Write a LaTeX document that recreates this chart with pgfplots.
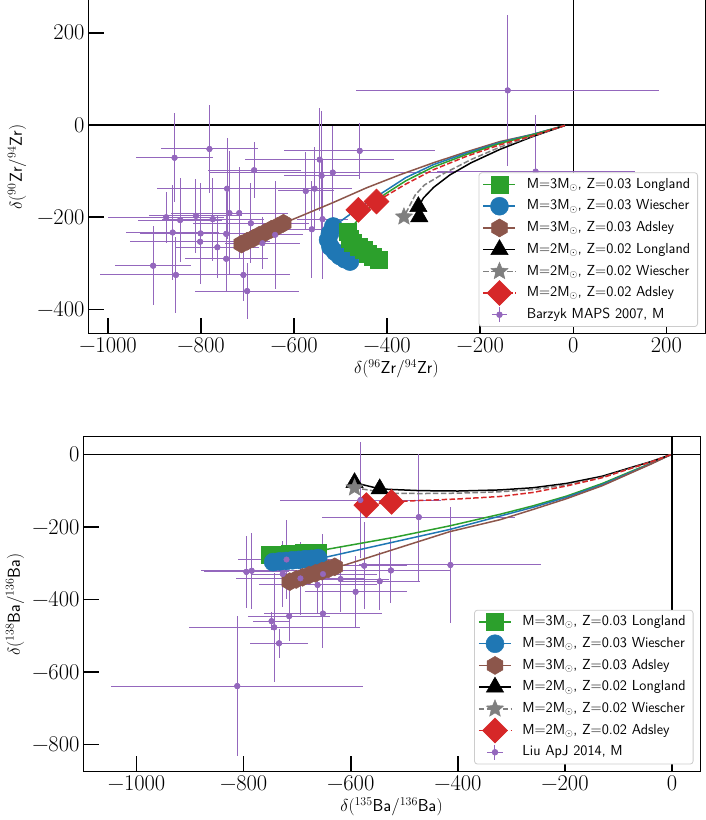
\documentclass[border=0pt]{standalone}
\usepackage{pgfplots}
\pgfplotsset{compat=1.18}
\usepackage{pgfplotstable}

\newcommand\TL[1]{{\fontsize{22.5}{26}\selectfont #1}}

\definecolor{tabgreen}{HTML}{2CA02C}
\definecolor{tabblue}{HTML}{1F77B4}
\definecolor{tabbrown}{HTML}{8C564B}
\definecolor{tabgray}{HTML}{7F7F7F}
\definecolor{tabred}{HTML}{D62728}
\definecolor{tabpurple}{HTML}{9467BD}

\pgfdeclareplotmark{hexagon*}{%
  \pgfpathmoveto{\pgfpointpolar{90}{\pgfplotmarksize}}%
  \pgfpathlineto{\pgfpointpolar{150}{\pgfplotmarksize}}%
  \pgfpathlineto{\pgfpointpolar{210}{\pgfplotmarksize}}%
  \pgfpathlineto{\pgfpointpolar{270}{\pgfplotmarksize}}%
  \pgfpathlineto{\pgfpointpolar{330}{\pgfplotmarksize}}%
  \pgfpathlineto{\pgfpointpolar{30}{\pgfplotmarksize}}%
  \pgfpathclose\pgfusepathqfillstroke}
\pgfdeclareplotmark{fstar}{%
  \pgfpathmoveto{\pgfpointpolar{90}{\pgfplotmarksize}}%
  \pgfpathlineto{\pgfpointpolar{126}{0.45*\pgfplotmarksize}}%
  \pgfpathlineto{\pgfpointpolar{162}{\pgfplotmarksize}}%
  \pgfpathlineto{\pgfpointpolar{198}{0.45*\pgfplotmarksize}}%
  \pgfpathlineto{\pgfpointpolar{234}{\pgfplotmarksize}}%
  \pgfpathlineto{\pgfpointpolar{270}{0.45*\pgfplotmarksize}}%
  \pgfpathlineto{\pgfpointpolar{306}{\pgfplotmarksize}}%
  \pgfpathlineto{\pgfpointpolar{342}{0.45*\pgfplotmarksize}}%
  \pgfpathlineto{\pgfpointpolar{18}{\pgfplotmarksize}}%
  \pgfpathlineto{\pgfpointpolar{54}{0.45*\pgfplotmarksize}}%
  \pgfpathclose\pgfusepathqfillstroke}
\pgfdeclareplotmark{bigdiamond*}{%
  \pgfpathmoveto{\pgfqpoint{0pt}{\pgfplotmarksize}}%
  \pgfpathlineto{\pgfqpoint{\pgfplotmarksize}{0pt}}%
  \pgfpathlineto{\pgfqpoint{0pt}{-\pgfplotmarksize}}%
  \pgfpathlineto{\pgfqpoint{-\pgfplotmarksize}{0pt}}%
  \pgfpathclose\pgfusepathqfillstroke}

\pgfplotstableread{
x y ex ey
-141 75 325 163
-81 -101 213 123
-459 -56 162 60
-782 -52 104 96
-857 -71 82 96
-686 -98 100 61
-545 -75 160 112
-541 -110 80 140
-517 -103 265 100
-575 -143 60 85
-556 -138 80 90
-744 -138 150 110
-875 -200 125 55
-845 -206 90 92
-811 -197 100 80
-775 -204 110 90
-739 -191 125 135
-718 -191 100 100
-861 -233 100 103
-801 -235 130 110
-802 -253 150 60
-765 -265 90 67
-693 -213 125 87
-746 -290 89 72
-903 -305 81 85
-854 -325 163 83
-709 -325 100 56
-701 -360 111 60
-668 -256 80 56
-641 -238 60 117
-562 -226 60 105
-539 -204 55 130
-746 -236 60 90
}\zrdata

\pgfplotstableread{
x y ex ey
-812 -639 235 193
-720 -290 90 110
-795 -324 80 100
-785 -321 95 105
-748 -460 35 25
-743 -477 160 150
-734 -521 55 40
-715 -446 77 70
-727 -330 60 90
-694 -342 120 100
-662 -360 110 80
-652 -330 100 110
-652 -439 110 95
-619 -344 90 90
-591 -379 95 100
-575 -307 80 120
-546 -350 75 80
-525 -320 110 90
-582 -126 150 160
-473 -173 180 175
-414 -305 170 160
}\badata

\pgfplotsset{
  panel/.style={
    scale only axis, width=617pt,
    axis line style={line width=1pt},
    tick align=inside, xtick pos=left, ytick pos=left,
    major tick length=16pt,
    tick style={black, line width=1.6pt},
    minor tick num=0,
    xticklabel style={font=\fontsize{22.5}{26}\selectfont},
    yticklabel style={font=\fontsize{22.5}{26}\selectfont},
    xlabel style={font=\fontsize{17.7}{21}\selectfont},
    ylabel style={font=\fontsize{17.7}{21}\selectfont},
    scaled ticks=false,
    legend cell align=left,
    legend image code/.code={%
      \path[draw=none,fill=none] (0pt,-3pt) rectangle (32pt,3pt);
      \begin{scope}[overlay,sharp corners]
      \draw[mark repeat=2,mark phase=2,##1] plot coordinates {(0pt,0pt) (16pt,0pt) (32pt,0pt)};
      \end{scope}},
    legend style={
      font=\sffamily\fontsize{14.5}{17}\selectfont,
      draw=black!20, line width=0.8pt, rounded corners=3pt, fill=white,
      inner xsep=4.5pt, inner ysep=1pt,
      column sep=8.3pt, row sep=0pt,
      nodes={inner xsep=3pt, inner ysep=3.6pt, text height=11pt, text depth=3.5pt},
      at={(1,0)}, anchor=south east, xshift=-7pt, yshift=7pt},
  },
  purplelegend/.style={legend image code/.code={%
      \path[draw=none,fill=none] (0pt,-3pt) rectangle (32pt,3pt);
      \begin{scope}[overlay,sharp corners]
      \draw[tabpurple, line width=1pt] (8.5pt,0pt) -- (24pt,0pt);
      \draw[tabpurple, line width=1pt] (16pt,-7.5pt) -- (16pt,7.5pt);
      \fill[tabpurple] (16pt,0pt) circle (2.8pt);
      \end{scope}}},
  mgreen/.style={tabgreen, line width=1.5pt, mark=square*, mark size=8.5pt, mark options={solid,line width=0.5pt}},
  mblue/.style={tabblue, line width=1.5pt, mark=*, mark size=9pt, mark options={solid,line width=0.5pt}},
  mbrown/.style={tabbrown, line width=1.5pt, mark=hexagon*, mark size=9pt, mark options={solid,line width=0.5pt}},
  mblack/.style={black, line width=1.5pt, mark=triangle*, mark size=10pt, mark options={solid,line width=0.5pt}},
  mgray/.style={tabgray, line width=1.5pt, dash pattern=on 5.5pt off 2.4pt, mark=fstar, mark size=9pt, mark options={solid,line width=0.5pt}},
  mred/.style={tabred, line width=1.5pt, dash pattern=on 5.5pt off 2.4pt, mark=bigdiamond*, mark size=12.5pt, mark options={solid,line width=0.5pt}},
  ebars/.style={only marks, mark=*, mark size=2.8pt, tabpurple,
    error bars/x dir=both, error bars/x explicit,
    error bars/y dir=both, error bars/y explicit,
    error bars/error mark=none,
    error bars/error bar style={tabpurple, line width=1pt, solid}},
}

\begin{document}
\begin{tikzpicture}
\useasboundingbox (0pt,0pt) rectangle (706pt,820pt);

% ---------------- top panel ----------------
\begin{axis}[panel, at={(88pt,486pt)}, anchor=south west, height=334pt,
  xmin=-1043, xmax=283, ymin=-453, ymax=271,
  xtick={-1000,-800,-600,-400,-200,0,200},
  xticklabels={\TL{−1000},\TL{−800},\TL{−600},\TL{−400},\TL{−200},\TL{0},\TL{200}},
  ytick={-400,-200,0,200},
  yticklabels={\TL{−400},\TL{−200},\TL{0},\TL{200}},
  xlabel={$\delta(^{96}\mathsf{Zr}/^{94}\mathsf{Zr})$},
  ylabel={$\delta(^{90}\mathsf{Zr}/^{94}\mathsf{Zr})$},
  ylabel style={at={(axis description cs:-0.115,0.5)}, anchor=center},
]
\addlegendimage{mgreen}\addlegendentry{M=3M$_\odot$, Z=0.03 Longland}
\addlegendimage{mblue}\addlegendentry{M=3M$_\odot$, Z=0.03 Wiescher}
\addlegendimage{mbrown}\addlegendentry{M=3M$_\odot$, Z=0.03 Adsley}
\addlegendimage{mblack}\addlegendentry{M=2M$_\odot$, Z=0.02 Longland}
\addlegendimage{mgray}\addlegendentry{M=2M$_\odot$, Z=0.02 Wiescher}
\addlegendimage{mred}\addlegendentry{M=2M$_\odot$, Z=0.02 Adsley}
\addlegendimage{purplelegend}\addlegendentry{Barzyk MAPS 2007, M}

\addplot[black, line width=1.6pt, forget plot] coordinates {(-2000,0) (2000,0)};
\addplot[black, line width=1.6pt, forget plot] coordinates {(0,-2000) (0,2000)};

\addplot[forget plot, ebars] table[x=x, y=y, x error=ex, y error=ey] {\zrdata};

% 3 Msun Adsley
\addplot[mbrown, no marks, forget plot] coordinates {(-18,-1) (-86,-20) (-158,-36) (-229,-58) (-301,-82) (-373,-108) (-444,-136) (-516,-168) (-587,-198) (-623,-213) (-636,-220) (-649,-226) (-662,-233) (-675,-239) (-688,-246) (-701,-252) (-713,-258)};
\addplot[mbrown, only marks, forget plot] coordinates {(-623,-213) (-636,-220) (-649,-226) (-662,-233) (-675,-239) (-688,-246) (-701,-252) (-713,-258)};
% 3 Msun Wiescher
\addplot[mblue, no marks, forget plot] coordinates {(-18,-1) (-90,-21) (-158,-38) (-230,-61) (-301,-86) (-360,-114) (-412,-148) (-465,-183) (-516,-220) (-523,-235) (-527,-249) (-522,-264) (-512,-275) (-502,-284) (-491,-291) (-480,-296)};
\addplot[mblue, only marks, forget plot] coordinates {(-516,-220) (-523,-235) (-527,-249) (-522,-264) (-512,-275) (-502,-284) (-491,-291) (-480,-296)};
% 3 Msun Longland
\addplot[mgreen, no marks, forget plot] coordinates {(-18,-1) (-90,-22) (-158,-40) (-230,-64) (-301,-91) (-360,-121) (-405,-150) (-450,-190) (-484,-231) (-480,-246) (-473,-256) (-462,-264) (-451,-271) (-441,-278) (-430,-285) (-419,-293)};
\addplot[mgreen, only marks, forget plot] coordinates {(-484,-231) (-480,-246) (-473,-256) (-462,-264) (-451,-271) (-441,-278) (-430,-285) (-419,-293)};
% 2 Msun Longland
\addplot[mblack, no marks, forget plot] coordinates {(-18,-1) (-90,-26) (-158,-53) (-220,-82) (-265,-108) (-300,-135) (-322,-158) (-333,-177) (-331,-199)};
\addplot[mblack, only marks, forget plot] coordinates {(-333,-177) (-331,-199)};
% 2 Msun Wiescher
\addplot[mgray, no marks, forget plot] coordinates {(-18,-1) (-90,-25) (-158,-48) (-220,-75) (-280,-106) (-320,-130) (-340,-152) (-364,-199)};
\addplot[mgray, only marks, forget plot] coordinates {(-364,-199)};
% 2 Msun Adsley
\addplot[mred, no marks, forget plot] coordinates {(-18,-1) (-90,-24) (-158,-43) (-230,-68) (-301,-97) (-360,-128) (-400,-152) (-423,-166) (-462,-184)};
\addplot[mred, only marks, forget plot] coordinates {(-423,-166) (-462,-184)};

\addplot[only marks, mark=*, mark size=2.8pt, tabpurple, forget plot] table[x=x, y=y] {\zrdata};
\end{axis}

% ---------------- bottom panel ----------------
\begin{axis}[panel, at={(83pt,48pt)}, anchor=south west, height=335pt,
  xmin=-1100, xmax=52, ymin=-876, ymax=48,
  xtick={-1000,-800,-600,-400,-200,0},
  xticklabels={\TL{−1000},\TL{−800},\TL{−600},\TL{−400},\TL{−200},\TL{0}},
  ytick={-800,-600,-400,-200,0},
  yticklabels={\TL{−800},\TL{−600},\TL{−400},\TL{−200},\TL{0}},
  xlabel={$\delta(^{135}\mathsf{Ba}/^{136}\mathsf{Ba})$},
  ylabel={$\delta(^{138}\mathsf{Ba}/^{136}\mathsf{Ba})$},
  ylabel style={at={(axis description cs:-0.110,0.5)}, anchor=center},
  legend style={xshift=0.5pt, yshift=0.5pt},
]
\addlegendimage{mgreen}\addlegendentry{M=3M$_\odot$, Z=0.03 Longland}
\addlegendimage{mblue}\addlegendentry{M=3M$_\odot$, Z=0.03 Wiescher}
\addlegendimage{mbrown}\addlegendentry{M=3M$_\odot$, Z=0.03 Adsley}
\addlegendimage{mblack}\addlegendentry{M=2M$_\odot$, Z=0.02 Longland}
\addlegendimage{mgray}\addlegendentry{M=2M$_\odot$, Z=0.02 Wiescher}
\addlegendimage{mred}\addlegendentry{M=2M$_\odot$, Z=0.02 Adsley}
\addlegendimage{purplelegend}\addlegendentry{Liu ApJ 2014, M}

\addplot[black, line width=1.6pt, forget plot] coordinates {(-2000,0) (2000,0)};
\addplot[black, line width=1.6pt, forget plot] coordinates {(0,-2000) (0,2000)};

\addplot[forget plot, ebars] table[x=x, y=y, x error=ex, y error=ey] {\badata};

% 3 Msun Longland
\addplot[mgreen, no marks, forget plot] coordinates {(-3,-1) (-40,-25) (-72,-44) (-130,-80) (-197,-115) (-260,-142) (-321,-165) (-415,-197) (-520,-229) (-645,-262) (-662,-270) (-675,-271) (-688,-272) (-701,-273) (-714,-275) (-727,-276) (-740,-277) (-751,-278)};
\addplot[mgreen, only marks, forget plot] coordinates {(-662,-270) (-675,-271) (-688,-272) (-701,-273) (-714,-275) (-727,-276) (-740,-277) (-751,-278)};
% 3 Msun Wiescher
\addplot[mblue, no marks, forget plot] coordinates {(-3,-1) (-40,-26) (-72,-46) (-130,-83) (-197,-118) (-260,-146) (-321,-170) (-415,-207) (-530,-245) (-642,-282) (-661,-286) (-673,-288) (-685,-289) (-697,-291) (-709,-292) (-721,-294) (-733,-295) (-745,-297)};
\addplot[mblue, only marks, forget plot] coordinates {(-661,-286) (-673,-288) (-685,-289) (-697,-291) (-709,-292) (-721,-294) (-733,-295) (-745,-297)};
% 3 Msun Adsley
\addplot[mbrown, no marks, forget plot] coordinates {(-3,-1) (-40,-27) (-72,-48) (-130,-86) (-197,-122) (-260,-152) (-321,-180) (-415,-213) (-511,-258) (-611,-305) (-630,-310) (-642,-316) (-654,-322) (-666,-328) (-678,-333) (-690,-339) (-702,-345) (-714,-351)};
\addplot[mbrown, only marks, forget plot] coordinates {(-630,-310) (-642,-316) (-654,-322) (-666,-328) (-678,-333) (-690,-339) (-702,-345) (-714,-351)};
% 2 Msun Longland
\addplot[mblack, no marks, forget plot] coordinates {(-3,-1) (-40,-20) (-72,-34) (-130,-60) (-197,-80) (-260,-92) (-321,-98) (-400,-101) (-470,-100) (-520,-97) (-546,-95) (-593,-78)};
\addplot[mblack, only marks, forget plot] coordinates {(-546,-95) (-593,-78)};
% 2 Msun Wiescher
\addplot[mgray, no marks, forget plot] coordinates {(-3,-1) (-40,-21) (-72,-36) (-130,-63) (-197,-84) (-260,-97) (-321,-103) (-400,-107) (-470,-108) (-530,-107) (-593,-92)};
\addplot[mgray, only marks, forget plot] coordinates {(-593,-92)};
% 2 Msun Adsley
\addplot[mred, no marks, forget plot] coordinates {(-3,-1) (-40,-21) (-72,-36) (-130,-64) (-197,-87) (-260,-105) (-321,-116) (-400,-123) (-470,-127) (-524,-131) (-571,-140)};
\addplot[mred, only marks, forget plot] coordinates {(-524,-131) (-571,-140)};

\addplot[only marks, mark=*, mark size=2.8pt, tabpurple, forget plot] table[x=x, y=y] {\badata};
\end{axis}
\end{tikzpicture}
\end{document}
